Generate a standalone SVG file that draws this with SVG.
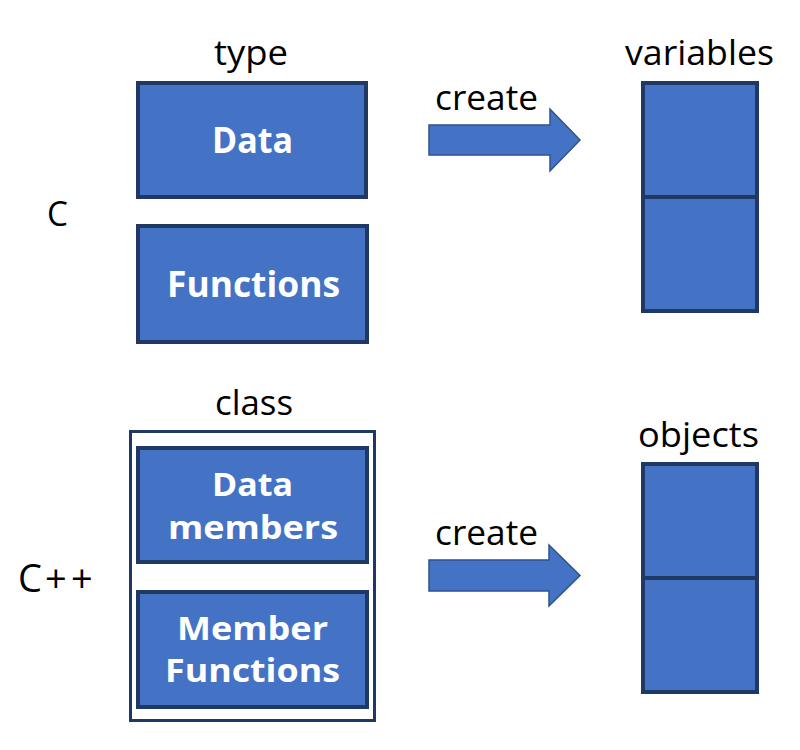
<svg xmlns="http://www.w3.org/2000/svg" width="800" height="750" viewBox="0 0 800 750">
<style>
.box{fill:#4472C4;stroke:#1F3864;stroke-width:4}
.frame{fill:none;stroke:#1F3864;stroke-width:3}
.arrow{fill:#4472C4;stroke:#2F528F;stroke-width:1.5;stroke-linejoin:miter}
.lbl{font-family:"Open Sans","Noto Sans","DejaVu Sans",sans-serif;font-size:35px;fill:#000}
.in{font-family:"Open Sans","Noto Sans","DejaVu Sans",sans-serif;font-size:35px;font-weight:bold;fill:#fff;text-anchor:middle}
.in2{font-size:32px}
</style>
<rect width="800" height="750" fill="#fff"/>
<text class="lbl" x="47" y="226" textLength="21" lengthAdjust="spacingAndGlyphs">C</text>
<text class="lbl" y="592" style="font-size:38px"><tspan x="18">C</tspan><tspan x="45">+</tspan><tspan x="71">+</tspan></text>
<g id="type">
<text class="lbl" x="214" y="65" textLength="74" lengthAdjust="spacingAndGlyphs">type</text>
</g>
<g id="data">
<rect class="box" x="138" y="83" width="228" height="114"/>
<text class="in" x="252.5" y="153" textLength="81" lengthAdjust="spacingAndGlyphs">Data</text>
</g>
<g id="functions">
<rect class="box" x="138" y="226" width="229" height="116"/>
<text class="in" x="253.5" y="297" textLength="173" lengthAdjust="spacingAndGlyphs">Functions</text>
</g>
<g id="variables">
<text class="lbl" x="625" y="65" textLength="149" lengthAdjust="spacingAndGlyphs">variables</text>
<rect class="box" x="643" y="83" width="114" height="228"/>
<line x1="643" y1="197" x2="757" y2="197" stroke="#1F3864" stroke-width="4"/>
</g>
<g id="class">
<text class="lbl" x="215" y="415" textLength="78" lengthAdjust="spacingAndGlyphs">class</text>
<rect class="frame" x="130.5" y="431.5" width="244" height="289"/>
</g>
<g id="data-members">
<rect class="box" x="138" y="448" width="229" height="114"/>
<text class="in in2" x="252.5" y="496" textLength="81" lengthAdjust="spacingAndGlyphs">Data</text>
<text class="in in2" x="253" y="539" textLength="170" lengthAdjust="spacingAndGlyphs">members</text>
</g>
<g id="member-functions">
<rect class="box" x="138" y="592" width="229" height="115"/>
<text class="in in2" x="252.5" y="640" textLength="151" lengthAdjust="spacingAndGlyphs">Member</text>
<text class="in in2" x="252.5" y="682" textLength="175" lengthAdjust="spacingAndGlyphs">Functions</text>
</g>
<g id="objects">
<text class="lbl" x="638" y="447" textLength="121" lengthAdjust="spacingAndGlyphs">objects</text>
<rect class="box" x="643" y="464" width="114" height="228"/>
<line x1="643" y1="578" x2="757" y2="578" stroke="#1F3864" stroke-width="4"/>
</g>
<g id="connectors">
<g id="create-c">
<text class="lbl" x="435" y="110" textLength="103" lengthAdjust="spacingAndGlyphs">create</text>
<path class="arrow" d="M429,125 H550 V109 L580,140 L550,171 V155 H429 Z"/>
</g>
<g id="create-cpp">
<text class="lbl" x="435" y="545" textLength="103" lengthAdjust="spacingAndGlyphs">create</text>
<path class="arrow" d="M429,560 H549 V545 L580,575.5 L549,606 V591 H429 Z"/>
</g>
</g>
</svg>
